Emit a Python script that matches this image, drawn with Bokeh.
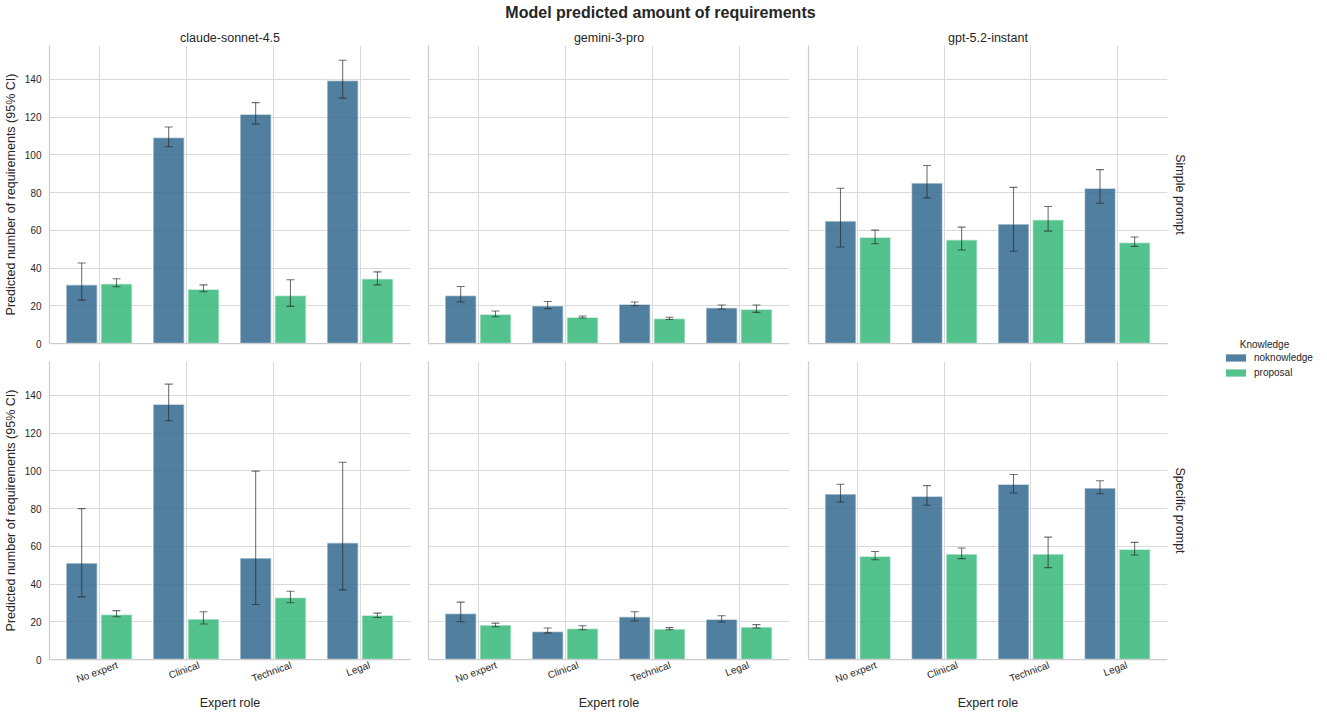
import numpy as np
from bokeh.plotting import figure
from bokeh.models import (ColumnDataSource, Whisker, TeeHead, FixedTicker,
                          Title, Legend, LegendItem, Range1d, Div, Label)
from bokeh.layouts import row, column
from bokeh.embed import file_html
from bokeh.resources import INLINE

# ---------------- data ----------------
roles = ["No expert", "Clinical", "Technical", "Legal"]
models = ["claude-sonnet-4.5", "gemini-3-pro", "gpt-5.2-instant"]
prompts = ["Simple prompt", "Specific prompt"]
knowledge = ["noknowledge", "proposal"]
y_ticks = [0, 20, 40, 60, 80, 100, 120, 140]

# Simple prompt
simple_claude_nok = [31.1, 109.2, 121.5, 139.5]
simple_claude_nok_lo = [23.0, 104.3, 116.3, 130.1]
simple_claude_nok_hi = [42.7, 114.8, 127.7, 150.2]
simple_claude_prop = [31.7, 28.8, 25.5, 34.3]
simple_claude_prop_lo = [30.1, 27.4, 19.7, 31.1]
simple_claude_prop_hi = [34.3, 31.1, 33.8, 38.0]

simple_gemini_nok = [25.5, 20.0, 20.8, 19.0]
simple_gemini_nok_lo = [22.0, 18.5, 20.0, 18.3]
simple_gemini_nok_hi = [30.2, 22.3, 22.0, 20.4]
simple_gemini_prop = [15.5, 13.9, 13.2, 18.1]
simple_gemini_prop_lo = [14.2, 13.5, 12.7, 16.5]
simple_gemini_prop_hi = [17.2, 14.6, 13.9, 20.4]

simple_gpt_nok = [64.9, 85.1, 63.3, 82.3]
simple_gpt_nok_lo = [51.2, 77.2, 48.9, 74.4]
simple_gpt_nok_hi = [82.3, 94.4, 82.8, 92.2]
simple_gpt_prop = [56.3, 55.0, 65.6, 53.6]
simple_gpt_prop_lo = [52.9, 49.6, 59.6, 51.5]
simple_gpt_prop_hi = [60.1, 61.7, 72.6, 56.5]

# Specific prompt
specific_claude_nok = [51.2, 135.4, 53.8, 61.9]
specific_claude_nok_lo = [33.2, 126.6, 29.2, 36.9]
specific_claude_nok_hi = [80.0, 146.0, 99.9, 104.6]
specific_claude_prop = [23.9, 21.5, 32.9, 23.4]
specific_claude_prop_lo = [22.7, 18.8, 30.1, 22.3]
specific_claude_prop_hi = [25.9, 25.3, 36.2, 24.6]

specific_gemini_nok = [24.4, 14.9, 22.7, 21.3]
specific_gemini_nok_lo = [20.0, 14.1, 20.4, 19.9]
specific_gemini_nok_hi = [30.4, 16.7, 25.3, 23.2]
specific_gemini_prop = [18.3, 16.5, 16.2, 17.2]
specific_gemini_prop_lo = [17.4, 15.8, 15.8, 16.7]
specific_gemini_prop_hi = [19.3, 17.9, 16.9, 18.5]

specific_gpt_nok = [87.8, 86.5, 92.9, 90.9]
specific_gpt_nok_lo = [83.5, 81.8, 88.3, 87.9]
specific_gpt_nok_hi = [92.9, 92.2, 98.1, 94.8]
specific_gpt_prop = [54.7, 55.9, 55.9, 58.4]
specific_gpt_prop_lo = [52.9, 53.5, 48.7, 55.4]
specific_gpt_prop_hi = [57.3, 59.1, 64.9, 62.1]

panels = {
    (0, 0): [(simple_claude_nok, simple_claude_nok_lo, simple_claude_nok_hi),
             (simple_claude_prop, simple_claude_prop_lo, simple_claude_prop_hi)],
    (0, 1): [(simple_gemini_nok, simple_gemini_nok_lo, simple_gemini_nok_hi),
             (simple_gemini_prop, simple_gemini_prop_lo, simple_gemini_prop_hi)],
    (0, 2): [(simple_gpt_nok, simple_gpt_nok_lo, simple_gpt_nok_hi),
             (simple_gpt_prop, simple_gpt_prop_lo, simple_gpt_prop_hi)],
    (1, 0): [(specific_claude_nok, specific_claude_nok_lo, specific_claude_nok_hi),
             (specific_claude_prop, specific_claude_prop_lo, specific_claude_prop_hi)],
    (1, 1): [(specific_gemini_nok, specific_gemini_nok_lo, specific_gemini_nok_hi),
             (specific_gemini_prop, specific_gemini_prop_lo, specific_gemini_prop_hi)],
    (1, 2): [(specific_gpt_nok, specific_gpt_nok_lo, specific_gpt_nok_hi),
             (specific_gpt_prop, specific_gpt_prop_lo, specific_gpt_prop_hi)],
}

# ---------------- style ----------------
FONT = "Liberation Sans"
TEXT = "#262626"
GRID = "#d9d9d9"
SPINE = "#cccccc"
COLORS = ["#31688e", "#35b779"]
OFFSETS = [-0.2, 0.2]
BAR_W = 0.36
ALPHA = 0.85
FRAME_H = 298
Y_END = 158
X_START, X_END = -0.57, 3.58
TICK_PX = 10
ROT_DEG = 20

# approximate advance widths (em) of Liberation Sans, used to centre the rotated
# tick labels under their category (Bokeh right-aligns rotated labels)
CHAR_W = {"N": .722, "o": .556, " ": .278, "e": .556, "x": .5, "p": .556, "r": .333,
          "t": .278, "C": .722, "l": .222, "i": .222, "n": .556, "c": .5, "a": .556,
          "T": .611, "h": .556, "L": .556, "g": .556}


def label_shift_px(text):
    w = sum(CHAR_W.get(ch, 0.556) for ch in text) * TICK_PX
    h = 1.15 * TICK_PX
    a = np.deg2rad(ROT_DEG)
    return 0.5 * (w * np.cos(a) - h * np.sin(a))


def make_panel(r, c):
    fw = 359 if c == 2 else 361
    mb_left = 45 if c == 0 else (10 if c == 2 else 9)
    mb_right = 25 if c == 2 else 9
    mb_top = 19 if r == 0 else 9
    mb_bottom = 9 if r == 0 else 48
    p = figure(frame_width=fw, frame_height=FRAME_H,
               x_range=Range1d(X_START, X_END), y_range=Range1d(0, Y_END),
               output_backend="svg", toolbar_location=None,
               title=(models[c] if r == 0 else None),
               min_border_left=mb_left, min_border_right=mb_right,
               min_border_top=mb_top, min_border_bottom=mb_bottom)
    p.outline_line_color = None
    p.background_fill_color = "white"
    p.border_fill_color = "white"

    if r == 0:
        p.title.align = "center"
        p.title.text_font = FONT
        p.title.text_font_size = "12.5px"
        p.title.text_font_style = "normal"
        p.title.text_color = TEXT
        p.title.standoff = 2

    positions = np.arange(len(roles))

    # grids
    p.xgrid.ticker = FixedTicker(ticks=[float(v) for v in positions])
    p.ygrid.ticker = FixedTicker(ticks=y_ticks)
    for g in (p.xgrid[0], p.ygrid[0]):
        g.grid_line_color = GRID
        g.grid_line_width = 1

    # x axis
    xa = p.xaxis[0]
    xa.major_tick_line_color = None
    xa.minor_tick_line_color = None
    xa.major_tick_out = 0
    xa.axis_line_color = SPINE
    xa.axis_line_width = 1.25
    if r == 1:
        px_per_unit = fw / (X_END - X_START)
        tick_pos = [round(float(positions[i]) + label_shift_px(roles[i]) / px_per_unit, 4)
                    for i in range(len(roles))]
        xa.ticker = FixedTicker(ticks=tick_pos)
        xa.major_label_overrides = {tick_pos[i]: roles[i] for i in range(len(roles))}
        xa.major_label_orientation = np.deg2rad(ROT_DEG)
        xa.major_label_text_font = FONT
        xa.major_label_text_font_size = f"{TICK_PX}px"
        xa.major_label_text_color = TEXT
        xa.major_label_standoff = 5
        xa.axis_label = "Expert role"
        xa.axis_label_text_font = FONT
        xa.axis_label_text_font_size = "12.5px"
        xa.axis_label_text_font_style = "normal"
        xa.axis_label_text_color = TEXT
        xa.axis_label_standoff = 3
    else:
        xa.ticker = FixedTicker(ticks=[])
        xa.major_label_standoff = 0

    # y axis
    ya = p.yaxis[0]
    ya.major_tick_line_color = None
    ya.minor_tick_line_color = None
    ya.major_tick_out = 0
    ya.axis_line_color = SPINE
    ya.axis_line_width = 1.25
    if c == 0:
        ya.ticker = FixedTicker(ticks=y_ticks)
        ya.major_label_text_font = FONT
        ya.major_label_text_font_size = f"{TICK_PX}px"
        ya.major_label_text_color = TEXT
        ya.major_label_standoff = 8
        ya.axis_label = "Predicted number of requirements (95% CI)"
        ya.axis_label_text_font = FONT
        ya.axis_label_text_font_size = "12.5px"
        ya.axis_label_text_font_style = "normal"
        ya.axis_label_text_color = TEXT
        ya.axis_label_standoff = 4
    else:
        ya.ticker = FixedTicker(ticks=[])
        ya.major_label_standoff = 0

    if c == 2:
        p.add_layout(Title(text=prompts[r], align="center", text_font=FONT,
                           text_font_size="12.5px", text_font_style="normal",
                           text_color=TEXT, standoff=10), "right")

    for k, (mean, lo, hi) in enumerate(panels[(r, c)]):
        src = ColumnDataSource(dict(x=positions + OFFSETS[k], top=mean, lo=lo, hi=hi))
        p.vbar(x="x", top="top", bottom=0, width=BAR_W, source=src,
               fill_color=COLORS[k], fill_alpha=ALPHA,
               line_color="white", line_alpha=0.6, line_width=1.5)
        w = Whisker(base="x", upper="hi", lower="lo", source=src,
                    line_color=TEXT, line_alpha=0.65, line_width=1.1, level="annotation",
                    upper_head=TeeHead(size=8, line_color=TEXT, line_alpha=0.65, line_width=1.1),
                    lower_head=TeeHead(size=8, line_color=TEXT, line_alpha=0.65, line_width=1.1))
        p.add_layout(w)
    return p


figs = [[make_panel(r, c) for c in range(3)] for r in range(2)]

# legend figure (proxy renderers with no visible data); ranges in pixels
LEG_W, LEG_H = 123, 681
leg_fig = figure(width=LEG_W, height=LEG_H, x_axis_type=None, y_axis_type=None,
                 x_range=Range1d(0, LEG_W), y_range=Range1d(0, LEG_H),
                 toolbar_location=None, output_backend="svg", title=None,
                 min_border_left=0, min_border_right=0, min_border_top=0, min_border_bottom=0)
leg_fig.outline_line_color = None
leg_fig.xgrid.visible = False
leg_fig.ygrid.visible = False
items = []
for k, name in enumerate(knowledge):
    rr = leg_fig.vbar(x=[float("nan")], top=[float("nan")], width=0.4,
                      fill_color=COLORS[k], fill_alpha=ALPHA, line_color=None)
    items.append(LegendItem(label=name, renderers=[rr]))
legend = Legend(items=items, location=(30, 329),
                label_text_font=FONT, label_text_font_size="10px", label_text_color=TEXT,
                glyph_width=25, glyph_height=9, label_height=11, label_standoff=6,
                spacing=4, padding=5, margin=0,
                border_line_color=None, background_fill_alpha=0)
leg_fig.add_layout(legend)
leg_fig.add_layout(Label(x=71, y=363, text="Knowledge", text_align="center",
                         text_baseline="middle", text_font=FONT, text_font_size="10px",
                         text_color=TEXT))

title_div = Div(text="Model predicted amount of requirements", width=1311, height=16,
                styles={"text-align": "center", "font-family": "'Liberation Sans', Arial, sans-serif",
                        "font-size": "16px", "font-weight": "bold", "color": TEXT,
                        "line-height": "16px"})

grid = column(row(*figs[0]), row(*figs[1]))
layout = column(title_div, row(grid, leg_fig))

open("out.html", "w").write(file_html(layout, INLINE, title="Model predicted amount of requirements"))
